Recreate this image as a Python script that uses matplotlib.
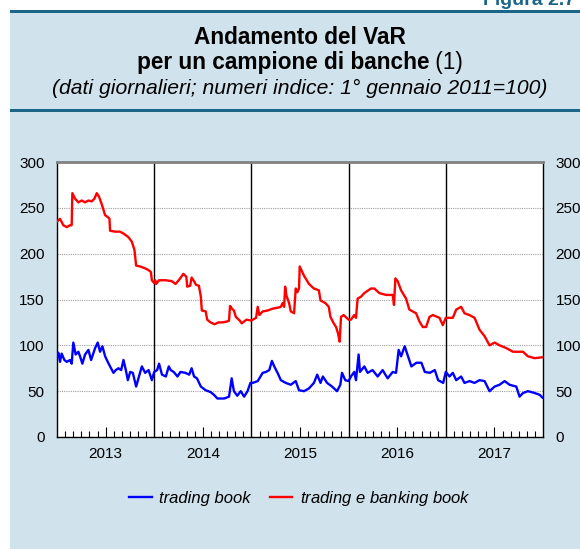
import matplotlib
matplotlib.use("Agg")
import matplotlib.pyplot as plt
from matplotlib.patches import Rectangle
from matplotlib.lines import Line2D

plt.rcParams['font.family'] = ['Liberation Sans', 'DejaVu Sans']
plt.rcParams['mathtext.fontset'] = 'custom'
plt.rcParams['mathtext.it'] = 'Liberation Sans:italic'
plt.rcParams['mathtext.rm'] = 'Liberation Sans'

# ---------------- data (decimal years, index values) ----------------
years = [2013, 2014, 2015, 2016, 2017]
year_labels = ['2013', '2014', '2015', '2016', '2017']
y_ticks = [0, 50, 100, 150, 200, 250, 300]

red_t = [2013.000, 2013.031, 2013.065, 2013.100, 2013.134, 2013.151, 2013.158, 2013.186,
         2013.220, 2013.254, 2013.289, 2013.323, 2013.357, 2013.385, 2013.409, 2013.433,
         2013.460, 2013.495, 2013.522, 2013.540, 2013.546, 2013.598, 2013.649, 2013.684,
         2013.735, 2013.770, 2013.797, 2013.814, 2013.856, 2013.907, 2013.942, 2013.966,
         2013.976, 2014.000,
         2014.010, 2014.020, 2014.050, 2014.120, 2014.180, 2014.220, 2014.260, 2014.300,
         2014.330, 2014.340, 2014.370, 2014.385, 2014.410, 2014.430, 2014.460, 2014.480,
         2014.490, 2014.530, 2014.545, 2014.580, 2014.620, 2014.660, 2014.700, 2014.750,
         2014.770, 2014.780, 2014.800, 2014.820, 2014.840, 2014.880, 2014.900, 2014.950,
         2015.000,
         2015.014, 2015.048, 2015.065, 2015.082, 2015.116, 2015.167, 2015.218, 2015.269,
         2015.303, 2015.320, 2015.337, 2015.347, 2015.361, 2015.388, 2015.405, 2015.439,
         2015.456, 2015.473, 2015.490, 2015.497, 2015.541, 2015.592, 2015.643, 2015.694,
         2015.711, 2015.762, 2015.796, 2015.813, 2015.847, 2015.871, 2015.891, 2015.908,
         2015.922, 2015.949, 2016.000,
         2016.024, 2016.058, 2016.076, 2016.093, 2016.127, 2016.162, 2016.230, 2016.265,
         2016.316, 2016.385, 2016.454, 2016.467, 2016.481, 2016.505, 2016.540, 2016.591,
         2016.625, 2016.694, 2016.729, 2016.763, 2016.797, 2016.832, 2016.866, 2016.935,
         2016.969, 2017.000,
         2017.072, 2017.107, 2017.158, 2017.192, 2017.244, 2017.296, 2017.347, 2017.399,
         2017.450, 2017.502, 2017.553, 2017.622, 2017.691, 2017.794, 2017.845, 2017.914,
         2017.995]
red_v = [235, 238, 231, 229, 231, 231, 266, 260,
         256, 258, 256, 258, 257, 260, 266, 262,
         254, 242, 240, 238, 225, 224, 224, 222,
         218, 213, 204, 187, 186, 184, 182, 180,
         171, 168,
         171, 167, 171, 171, 170, 167, 172, 178,
         175, 164, 165, 174, 170, 166, 165, 153,
         138, 137, 128, 125, 123, 125, 125, 126,
         127, 143, 140, 138, 131, 127, 124, 128,
         127,
         128, 130, 142, 133, 137, 138, 140, 141,
         142, 146, 142, 164, 154, 146, 137, 135,
         162, 158, 162, 186, 176, 167, 162, 160,
         149, 146, 142, 131, 124, 120, 113, 104,
         131, 133, 128,
         128, 133, 130, 151, 153, 157, 162, 162,
         157, 155, 155, 144, 173, 170, 160, 151,
         139, 135, 126, 120, 120, 131, 133, 130,
         122, 130,
         130, 139, 142, 135, 133, 130, 117, 110,
         100, 103, 100, 97, 93, 93, 88, 86,
         87]

blue_t = [2013.000, 2013.014, 2013.031, 2013.048, 2013.076, 2013.100, 2013.134, 2013.151,
          2013.168, 2013.192, 2013.220, 2013.237, 2013.261, 2013.289, 2013.323, 2013.351,
          2013.392, 2013.419, 2013.443, 2013.467, 2013.495, 2013.522, 2013.546, 2013.581,
          2013.605, 2013.632, 2013.660, 2013.684, 2013.708, 2013.729, 2013.753, 2013.780,
          2013.814, 2013.838, 2013.873, 2013.907, 2013.942, 2013.976,
          2014.000, 2014.030, 2014.050, 2014.080, 2014.120, 2014.150, 2014.170, 2014.200,
          2014.240, 2014.270, 2014.320, 2014.360, 2014.385, 2014.410, 2014.440, 2014.480,
          2014.530, 2014.580, 2014.615, 2014.650, 2014.720, 2014.770, 2014.797, 2014.820,
          2014.855, 2014.890, 2014.925, 2014.960, 2014.990,
          2015.014, 2015.065, 2015.116, 2015.150, 2015.184, 2015.211, 2015.235, 2015.269,
          2015.303, 2015.354, 2015.405, 2015.456, 2015.490, 2015.541, 2015.592, 2015.643,
          2015.677, 2015.711, 2015.735, 2015.779, 2015.830, 2015.881, 2015.915, 2015.932,
          2015.966, 2016.000,
          2016.024, 2016.058, 2016.076, 2016.103, 2016.117, 2016.162, 2016.196, 2016.247,
          2016.299, 2016.350, 2016.402, 2016.454, 2016.488, 2016.515, 2016.540, 2016.577,
          2016.612, 2016.646, 2016.698, 2016.749, 2016.784, 2016.835, 2016.887, 2016.921,
          2016.973, 2017.000,
          2017.038, 2017.072, 2017.107, 2017.158, 2017.192, 2017.244, 2017.296, 2017.347,
          2017.399, 2017.450, 2017.502, 2017.553, 2017.605, 2017.656, 2017.725, 2017.759,
          2017.794, 2017.845, 2017.914, 2017.966, 2017.995]
blue_v = [88, 92, 82, 91, 84, 82, 84, 80,
          103, 90, 93, 88, 80, 90, 95, 84,
          97, 103, 93, 99, 88, 82, 77, 70,
          73, 75, 73, 84, 73, 62, 71, 70,
          55, 64, 77, 70, 73, 62,
          71, 73, 80, 68, 66, 77, 73, 71,
          66, 71, 70, 68, 75, 66, 64, 55,
          51, 49, 46, 42, 42, 44, 64, 50,
          45, 50, 44, 50, 59,
          59, 61, 70, 71, 73, 83, 77, 70,
          62, 59, 57, 61, 51, 50, 53, 59,
          68, 59, 66, 59, 55, 50, 57, 70,
          62, 61,
          66, 71, 62, 90, 71, 77, 70, 73,
          66, 73, 64, 71, 70, 95, 88, 99,
          88, 77, 81, 81, 71, 70, 73, 62,
          59, 71,
          66, 70, 62, 66, 59, 61, 59, 62,
          61, 50, 55, 57, 61, 57, 55, 44,
          48, 50, 48, 46, 43]

series_labels = ['trading book', r'$\mathit{trading}$ e $\mathit{banking\ book}$']
title1 = 'Andamento del VaR'
title2 = 'per un campione di banche'
title2_note = ' (1)'
subtitle = '(dati giornalieri; numeri indice: 1° gennaio 2011=100)'
fig_label = 'Figura 2.7'

# ---------------- figure ----------------
W, H = 580, 549
fig = plt.figure(figsize=(W / 100, H / 100), dpi=100, facecolor='white')

panel_bg = '#d0e2ec'
teal = '#1b6688'
fig.patches.append(Rectangle((10 / W, 0), 1 - 10 / W, 1 - 10 / H, transform=fig.transFigure,
                             facecolor=panel_bg, edgecolor='none', zorder=-10))
fig.patches.append(Rectangle((10 / W, 1 - 13 / H), 1 - 10 / W, 3 / H, transform=fig.transFigure,
                             facecolor=teal, edgecolor='none', zorder=-9))
fig.patches.append(Rectangle((10 / W, 1 - 112 / H), 1 - 10 / W, 2.5 / H, transform=fig.transFigure,
                             facecolor=teal, edgecolor='none', zorder=-9))

fig.text(483 / W, 1 - 5 / H, fig_label, color=teal, fontsize=14, fontweight='bold',
         ha='left', va='baseline')

cx = 300 / W
fig.text(cx, 1 - 37 / H, title1, fontsize=16.3, fontweight='bold', ha='center', va='center')

# second title line: bold part + normal "(1)", centred together
renderer = fig.canvas.get_renderer()
tb = fig.text(0, 1 - 62 / H, title2, fontsize=16.3, fontweight='bold', ha='left', va='center')
tn = fig.text(0, 1 - 62 / H, title2_note, fontsize=16.3, ha='left', va='center')
wb = tb.get_window_extent(renderer).width
wn = tn.get_window_extent(renderer).width
x0 = 300 - (wb + wn) / 2
tb.set_x(x0 / W)
tn.set_x((x0 + wb) / W)

fig.text(cx, 1 - 88 / H, subtitle, fontsize=15.2, style='italic', ha='center', va='center')

left, right, top, bottom = 57, 543, 162, 437
ax = fig.add_axes([left / W, 1 - bottom / H, (right - left) / W, (bottom - top) / H])
ax.set_facecolor('white')

ax.plot(blue_t, blue_v, color='#0000ff', lw=1.7, label=series_labels[0], zorder=3)
ax.plot(red_t, red_v, color='#ff0000', lw=1.7, label=series_labels[1], zorder=3)

ax.set_xlim(2013, 2018)
ax.set_ylim(0, 300)

for y in y_ticks[1:-1]:
    ax.axhline(y, color='#a0a0a0', lw=0.8, ls=(0, (1, 1)), zorder=1)
for yr in years[1:]:
    ax.axvline(yr, color='black', lw=1.0, zorder=2)

ax.set_xticks([y + 0.5 for y in years])
ax.set_xticklabels(year_labels)
minor = [y + m / 12 for y in years for m in range(1, 12) if m != 6]
ax.set_xticks(minor, minor=True)
ax.tick_params(axis='x', which='major', direction='in', length=7, width=0.8, labelsize=11, pad=7)
ax.tick_params(axis='x', which='minor', direction='in', length=4, width=0.8)
ax.set_yticks(y_ticks)
ax.tick_params(axis='y', length=0, labelsize=11, pad=9)

for s in ['left', 'right', 'bottom']:
    ax.spines[s].set_color('black')
    ax.spines[s].set_linewidth(1.0)
ax.spines['top'].set_color('#808080')
ax.spines['top'].set_linewidth(2.0)

ax2 = ax.twinx()
ax2.set_ylim(0, 300)
ax2.set_yticks(y_ticks)
ax2.tick_params(axis='y', length=0, labelsize=11, pad=9)
for s in ax2.spines.values():
    s.set_visible(False)

fig.legend(handles=[Line2D([], [], color='#0000ff', lw=1.7),
                    Line2D([], [], color='#ff0000', lw=1.7)],
           labels=series_labels, loc='center', bbox_to_anchor=(300 / W, 1 - 498 / H),
           ncol=2, frameon=False, prop={'size': 12, 'style': 'italic'},
           handlelength=1.35, handletextpad=0.45, columnspacing=1.15)

fig.savefig('out.png', dpi=100, facecolor=fig.get_facecolor())
